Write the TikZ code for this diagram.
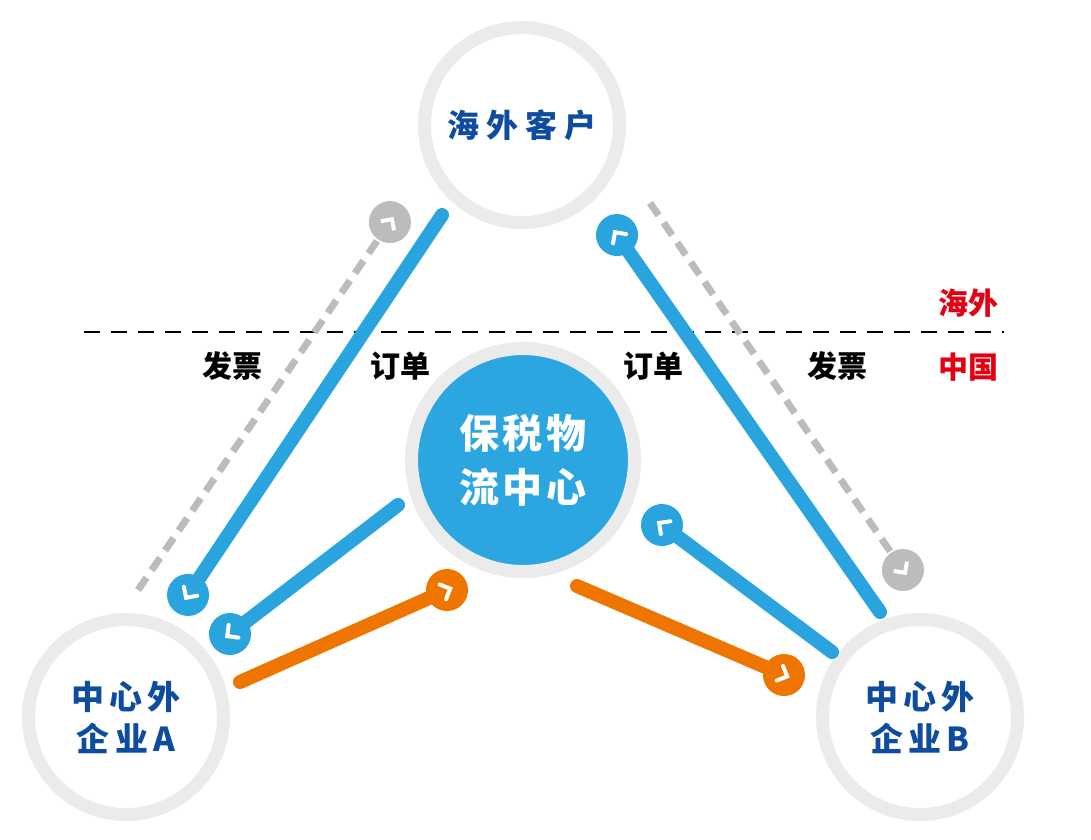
\documentclass[tikz,border=0pt]{standalone}
\usepackage{fontspec}
\setmainfont{Noto Sans CJK SC}
\usetikzlibrary{decorations.markings}
\definecolor{flowblue}{RGB}{41,164,222}
\definecolor{hubblue}{RGB}{44,166,224}
\definecolor{ringgray}{RGB}{235,235,235}
\definecolor{markgray}{RGB}{188,188,188}
\definecolor{navy}{RGB}{14,76,160}
\definecolor{cnred}{RGB}{228,0,18}
\definecolor{floworange}{RGB}{237,117,0}
\tikzstyle{base} = [circle, inner sep=0pt, line width=13pt, draw=ringgray, align=center]
\tikzstyle{party} = [base, minimum size=195pt, text=navy, font=\bfseries\fontsize{33}{42}\selectfont\addfontfeature{LetterSpace=16}]
\tikzstyle{hub} = [base, minimum size=223pt, fill=hubblue, text=white, font=\bfseries\fontsize{40}{54}\selectfont\addfontfeature{LetterSpace=9}]
\tikzstyle{side text} = [font=\bfseries\fontsize{30}{30}\selectfont]
\tikzstyle{region} = [side text, text=cnred]
\tikzstyle{border} = [draw, line width=2pt, dash pattern=on 16pt off 11pt]
\tikzstyle{connector} = [draw, line width=14pt, line cap=round]
\tikzstyle{invoice} = [draw=markgray, line width=7pt, dash pattern=on 15pt off 9pt]
\tikzstyle{end dot} = [postaction={decorate, decoration={markings, mark=at position 1 with {\fill [#1] (0,0) circle (21); \draw [white, solid, line width=4pt] (-4.5,8) -- (3.5,0) -- (-4.5,-8);}}}]
\begin{document}
\begin{tikzpicture}[x=1pt, y=-1pt]
	\useasboundingbox (0,0) rectangle (1091,839);

	\node [party] at (522,125) (customer) {\raisebox{3pt}{\fontsize{32}{32}\selectfont\addfontfeature{LetterSpace=22}海外客户}};
	\node [hub] at (523,460) (center) {保税物\\流中心};
	\node [party] at (126,717) (firm a) {中心外\\企业A};
	\node [party] at (920,717) (firm b) {中心外\\企业B};

	% border line
	\coordinate (border w) at (84,332);
	\coordinate (border e) at (1004,332);
	\path [border] (border w) -- (border e);
	\node [region] at (968,303) (abroad) {海外};
	\node [region] at (968,367) (china) {中国};
	\node [side text] at (232,366) (invoice a) {发票};
	\node [side text] at (400,366) (order a) {订单};
	\node [side text] at (653,366) (order b) {订单};
	\node [side text] at (837,366) (invoice b) {发票};

	% side A
	\coordinate (a1 from) at (442,215);
	\coordinate (a1 to) at (188,595);
	\coordinate (a2 from) at (398,505);
	\coordinate (a2 to) at (230,634);
	\coordinate (a3 from) at (240,682);
	\coordinate (a3 to) at (447,590);
	\coordinate (a4 from) at (138,590);
	\coordinate (a4 to) at (390,222);
	\path [invoice, end dot=markgray] (a4 from) -- (a4 to);
	\path [connector, flowblue, end dot=flowblue] (a1 from) -- (a1 to);
	\path [connector, flowblue, end dot=flowblue] (a2 from) -- (a2 to);
	\path [connector, floworange, end dot=floworange] (a3 from) -- (a3 to);

	% side B
	\coordinate (b1 from) at (880,612);
	\coordinate (b1 to) at (617,235);
	\coordinate (b2 from) at (832,652);
	\coordinate (b2 to) at (662,525);
	\coordinate (b3 from) at (577,586);
	\coordinate (b3 to) at (784,675);
	\coordinate (b4 from) at (650,203);
	\coordinate (b4 to) at (903,570);
	\path [invoice, end dot=markgray] (b4 from) -- (b4 to);
	\path [connector, flowblue, end dot=flowblue] (b1 from) -- (b1 to);
	\path [connector, flowblue, end dot=flowblue] (b2 from) -- (b2 to);
	\path [connector, floworange, end dot=floworange] (b3 from) -- (b3 to);

\end{tikzpicture}
\end{document}
